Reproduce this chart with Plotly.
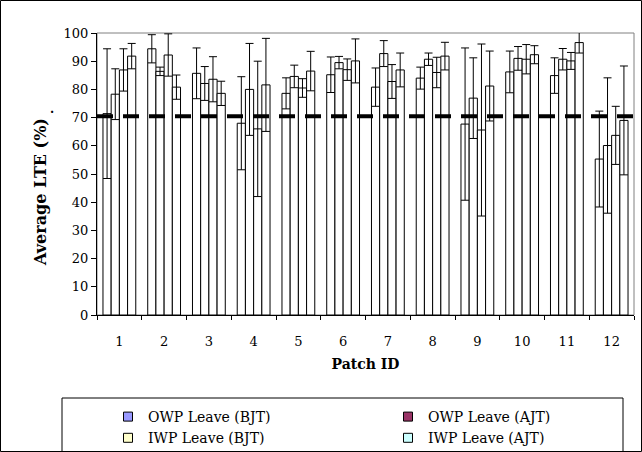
import plotly.graph_objects as go

patches = [str(i) for i in range(1, 13)]
series_names = ["OWP Leave (BJT)", "OWP Leave (AJT)", "IWP Leave (BJT)", "IWP Leave (AJT)"]
legend_colors = ["#9999FF", "#993366", "#FFFFCC", "#CCFFFF"]

owp_bjt = [71.4, 94.4, 85.7, 68.0, 78.6, 85.2, 80.8, 84.0, 67.7, 86.2, 84.9, 55.3]
owp_bjt_err = [23.0, 5.0, 9.0, 16.5, 5.5, 6.3, 6.8, 3.9, 27.0, 7.4, 6.3, 17.0]
owp_ajt = [78.3, 86.4, 82.1, 80.0, 84.6, 89.5, 92.7, 90.7, 76.9, 91.0, 90.7, 60.1]
owp_ajt_err = [9.0, 1.5, 6.0, 16.3, 4.0, 2.2, 4.6, 2.2, 14.3, 4.2, 3.8, 24.0]
iwp_bjt = [86.9, 92.2, 83.6, 66.0, 80.5, 87.0, 82.8, 86.0, 65.6, 90.7, 90.1, 63.7]
iwp_bjt_err = [7.5, 7.5, 8.0, 24.0, 3.3, 3.8, 6.0, 5.4, 30.5, 5.2, 3.0, 10.3]
iwp_ajt = [91.8, 80.8, 78.6, 81.6, 86.5, 90.1, 86.9, 91.8, 81.2, 92.3, 96.6, 69.0]
iwp_ajt_err = [4.5, 4.3, 4.3, 16.5, 7.0, 7.8, 6.0, 4.9, 12.4, 3.2, 3.7, 19.3]

threshold = 70.5
y_ticks = list(range(0, 101, 10))
x_title = "Patch ID"
y_title = "Average LTE (%)"

values = [owp_bjt, owp_ajt, iwp_bjt, iwp_ajt]
errors = [owp_bjt_err, owp_ajt_err, iwp_bjt_err, iwp_ajt_err]

FONT = "DejaVu Serif"
W, H = 642, 452
L, R, T, B = 97, 8, 33, 137
pw, ph = W - L - R, H - T - B

def px_x(p):
    return (p - L) / pw

def px_y(p):
    return (H - B - p) / ph

fig = go.Figure()
for name, v, e in zip(series_names, values, errors):
    fig.add_trace(go.Bar(
        x=patches, y=v, name=name, showlegend=False,
        marker=dict(color="white", line=dict(color="black", width=1)),
        error_y=dict(type="data", array=e, visible=True, color="black", thickness=1, width=4),
    ))

# legend-only swatches
legend_ids = ["legend", "legend2", "legend", "legend2"]
for name, c, lg in zip(series_names, legend_colors, legend_ids):
    fig.add_trace(go.Scatter(
        x=[None], y=[None], mode="markers", name=name, legend=lg,
        marker=dict(symbol="square", size=9, color=c, line=dict(color="black", width=1)),
    ))

shapes = [
    dict(type="rect", xref="paper", yref="paper", x0=0, x1=1, y0=0, y1=1,
         line=dict(color="#808080", width=1), layer="below"),
    dict(type="line", xref="paper", yref="paper", x0=0, x1=px_x(W), y0=threshold / 100, y1=threshold / 100,
         line=dict(color="black", width=4, dash="16px,10px"), layer="above"),
    dict(type="rect", xref="paper", yref="paper", x0=px_x(62), x1=px_x(623), y0=px_y(453), y1=px_y(398),
         line=dict(color="black", width=1)),
    dict(type="rect", xref="paper", yref="paper", x0=px_x(0.5), x1=px_x(641.5), y0=px_y(451.5), y1=px_y(0.5),
         line=dict(color="black", width=1)),
]

fig.update_layout(
    width=W, height=H,
    margin=dict(l=L, r=R, t=T, b=B, autoexpand=False),
    paper_bgcolor="white", plot_bgcolor="white",
    barmode="group", bargap=0.267, bargroupgap=0,
    font=dict(family=FONT, size=12, color="black"),
    shapes=shapes,
    legend=dict(x=px_x(108), y=px_y(401), xanchor="left", yanchor="top", orientation="v",
                font=dict(family=FONT, size=14), bgcolor="rgba(0,0,0,0)", tracegroupgap=0,
                itemwidth=30),
    legend2=dict(x=px_x(388), y=px_y(401), xanchor="left", yanchor="top", orientation="v",
                 font=dict(family=FONT, size=14), bgcolor="rgba(0,0,0,0)", tracegroupgap=0,
                 itemwidth=30),
    annotations=[
        dict(text="<b>" + y_title + "</b>", textangle=-90, x=px_x(40), y=px_y(192),
             xref="paper", yref="paper", xanchor="center", yanchor="middle",
             showarrow=False, font=dict(size=16)),
        dict(text="<b>.</b>", x=px_x(48), y=px_y(100), xref="paper", yref="paper",
             showarrow=False, font=dict(size=12)),
    ],
)

fig.update_xaxes(
    type="category", range=[-0.5, 11.5], showline=True, linecolor="black", linewidth=1,
    ticks="outside", tickson="boundaries", ticklen=4, tickcolor="black",
    ticklabelstandoff=14, showgrid=False, zeroline=False,
    title=dict(text="<b>" + x_title + "</b>", font=dict(size=14), standoff=11),
    tickfont=dict(size=13),
)
fig.update_yaxes(
    range=[0, 100], tickvals=y_ticks, showline=True, linecolor="black", linewidth=1,
    ticks="outside", ticklen=5, tickcolor="black", showgrid=False, zeroline=False,
    tickfont=dict(size=13),
)

fig.write_html("out.html", config={"displayModeBar": False},
               post_script="document.body.style.margin='0';document.body.style.overflow='hidden';")
